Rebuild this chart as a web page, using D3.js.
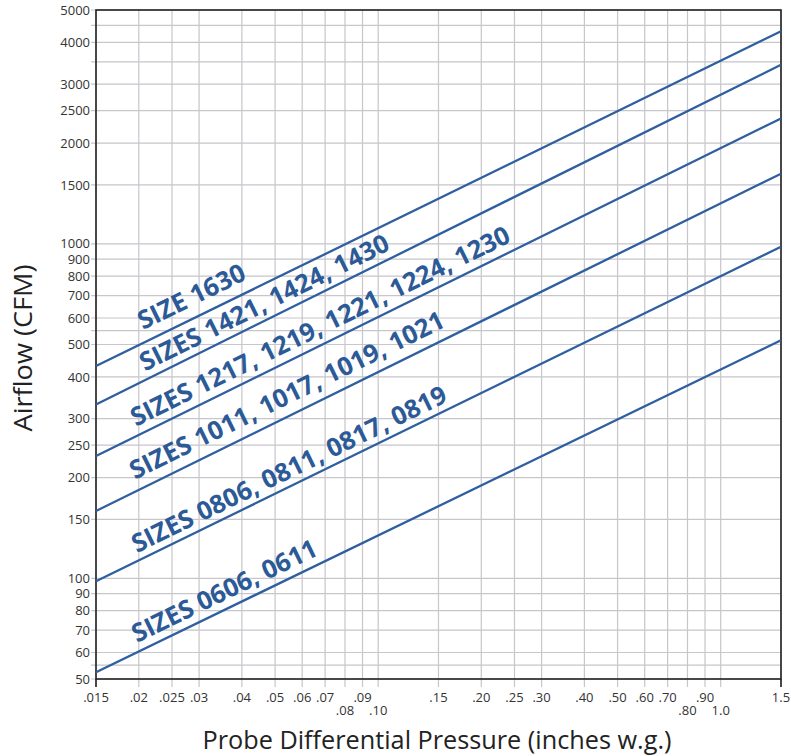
<!DOCTYPE html>
<html>
<head>
<meta charset="utf-8">
<script src="https://cdn.jsdelivr.net/npm/d3@7"></script>
<style>
  body { margin: 0; background: #fff; }
  svg { display: block; }
</style>
</head>
<body>
<div id="chart"></div>
<script>
// pressure range covered by each rating line (inches w.g.)
const pressures = [0.015, 1.5];

// airflow (CFM) at each end of the pressure range
const flowSize1630 = [431, 4320];
const flowSizes1421 = [331, 3430];
const flowSizes1217 = [232, 2370];
const flowSizes1011 = [159, 1620];
const flowSizes0806 = [98, 980];
const flowSizes0606 = [52.4, 515];

const seriesNames = [
  "SIZE 1630",
  "SIZES 1421, 1424, 1430",
  "SIZES 1217, 1219, 1221, 1224, 1230",
  "SIZES 1011, 1017, 1019, 1021",
  "SIZES 0806, 0811, 0817, 0819",
  "SIZES 0606, 0611"
];
const seriesFlows = [flowSize1630, flowSizes1421, flowSizes1217, flowSizes1011, flowSizes0806, flowSizes0606];

// tick labels
const xTicks = [0.015, 0.02, 0.025, 0.03, 0.04, 0.05, 0.06, 0.07, 0.08, 0.09, 0.10, 0.15, 0.20, 0.25, 0.30, 0.40, 0.50, 0.60, 0.70, 0.80, 0.90, 1.0, 1.5];
const xTickLabels = [".015", ".02", ".025", ".03", ".04", ".05", ".06", ".07", ".08", ".09", ".10", ".15", ".20", ".25", ".30", ".40", ".50", ".60", ".70", ".80", ".90", "1.0", "1.5"];
const xLowRow = [".08", ".10", ".80", "1.0"];
const yGrid = [50, 55, 60, 70, 80, 90, 100, 150, 200, 250, 300, 400, 500, 550, 600, 700, 800, 900, 1000, 1500, 2000, 2500, 3000, 3500, 4000, 4500, 5000];
const yTickLabels = [50, 60, 70, 80, 90, 100, 150, 200, 250, 300, 400, 500, 600, 700, 800, 900, 1000, 1500, 2000, 2500, 3000, 4000, 5000];

const W = 791, H = 756;
const margin = { top: 10, right: 10, bottom: 77, left: 96 };
const width = W - margin.left - margin.right;
const height = H - margin.top - margin.bottom;

const blue = "#2f5f9f";
const gridColor = "#c6c6cb";

const svg = d3.select("#chart").append("svg")
    .attr("width", W)
    .attr("height", H);

const g = svg.append("g")
    .attr("transform", "translate(" + margin.left + "," + margin.top + ")");

const x = d3.scaleLog().domain([0.015, 1.5]).range([0, width]);
const y = d3.scaleLog().domain([50, 5000]).range([height, 0]);

// grid lines (they poke out a little past the axes like ticks)
g.append("g").selectAll("line")
    .data(xTicks)
  .enter().append("line")
    .attr("x1", d => x(d)).attr("x2", d => x(d))
    .attr("y1", 0).attr("y2", height + 8)
    .attr("stroke", gridColor)
    .attr("stroke-width", 1.2);

g.append("g").selectAll("line")
    .data(yGrid)
  .enter().append("line")
    .attr("x1", -5).attr("x2", width)
    .attr("y1", d => y(d)).attr("y2", d => y(d))
    .attr("stroke", gridColor)
    .attr("stroke-width", 1.2);

// frame
g.append("rect")
    .attr("width", width)
    .attr("height", height)
    .attr("fill", "none")
    .attr("stroke", "#222")
    .attr("stroke-width", 1.6);

// end ticks at .015 and 1.5
g.append("g").selectAll("line")
    .data([0.015, 1.5])
  .enter().append("line")
    .attr("x1", d => x(d)).attr("x2", d => x(d))
    .attr("y1", height).attr("y2", height + 8)
    .attr("stroke", "#222")
    .attr("stroke-width", 1.6);

// y tick labels
g.append("g").selectAll("text")
    .data(yTickLabels)
  .enter().append("text")
    .attr("x", -6)
    .attr("y", d => y(d))
    .attr("dy", "0.36em")
    .attr("text-anchor", "end")
    .attr("font-family", "Open Sans, sans-serif")
    .attr("font-size", 13)
    .attr("fill", "#333")
    .text(d => d);

// x tick labels, a few dropped to a second row
g.append("g").selectAll("text")
    .data(xTicks)
  .enter().append("text")
    .attr("x", (d, i) => x(d))
    .attr("y", (d, i) => height + (xLowRow.includes(xTickLabels[i]) ? 36 : 23))
    .attr("text-anchor", "middle")
    .attr("font-family", "Open Sans, sans-serif")
    .attr("font-size", 13)
    .attr("fill", "#333")
    .text((d, i) => xTickLabels[i]);

// rating lines
const line = d3.line()
    .x(d => x(d[0]))
    .y(d => y(d[1]));

seriesFlows.forEach(flows => {
    g.append("path")
        .datum(pressures.map((p, i) => [p, flows[i]]))
        .attr("fill", "none")
        .attr("stroke", blue)
        .attr("stroke-width", 2.3)
        .attr("d", line);
});

// labels sit just above each line, rotated with it
const labelStart = [47, 49, 40, 39, 41, 41];   // px from left axis
const labelGap = [13, 8.6, 9.7, 12, 8, 9.3];   // px above the line

seriesFlows.forEach((flows, i) => {
    const x0 = x(pressures[0]), y0 = y(flows[0]);
    const x1 = x(pressures[1]), y1 = y(flows[1]);
    const slope = (y1 - y0) / (x1 - x0);
    const angle = Math.atan(slope) * 180 / Math.PI;
    const lx = labelStart[i];
    const ly = y0 + slope * (lx - x0) - labelGap[i];
    g.append("text")
        .attr("transform", "translate(" + lx + "," + ly + ") rotate(" + angle + ")")
        .attr("font-family", "Open Sans, sans-serif")
        .attr("font-weight", "bold")
        .attr("font-size", 25.5)
        .attr("fill", "#2b5a97")
        .text(seriesNames[i]);
});

// axis titles
svg.append("text")
    .attr("x", 437)
    .attr("y", 749)
    .attr("text-anchor", "middle")
    .attr("font-family", "Open Sans, sans-serif")
    .attr("font-size", 26)
    .attr("fill", "#222")
    .attr("textLength", 469)
    .attr("lengthAdjust", "spacingAndGlyphs")
    .text("Probe Differential Pressure (inches w.g.)");

svg.append("text")
    .attr("transform", "translate(32,348) rotate(-90)")
    .attr("text-anchor", "middle")
    .attr("font-family", "Open Sans, sans-serif")
    .attr("font-size", 26)
    .attr("fill", "#222")
    .attr("textLength", 167)
    .attr("lengthAdjust", "spacingAndGlyphs")
    .text("Airflow (CFM)");
</script>
</body>
</html>
